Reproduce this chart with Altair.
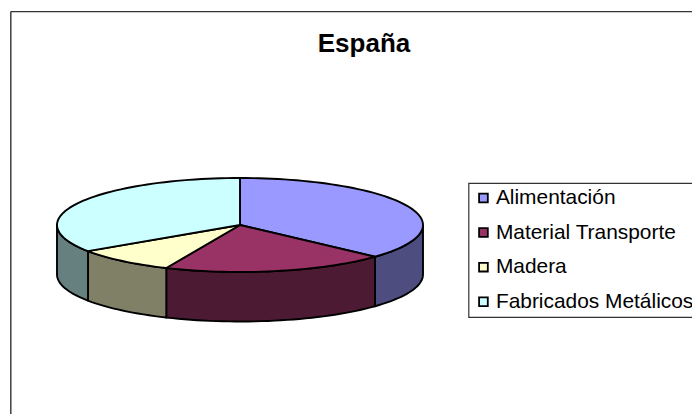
import math
import altair as alt
import pandas as pd

categories = ["Alimentación", "Material Transporte", "Madera", "Fabricados Metálicos"]
shares = [36.8, 19.8, 9.0, 34.4]
top_colors = ["#9999FF", "#993366", "#FFFFCC", "#CCFFFF"]
side_colors = ["#4D4D80", "#4D1A33", "#808066", "#668080"]

# page pixels, used only to set up the scales' domains
RX, RY, DEPTH = 183.0, 47.0, 49.5
CX, CY = 240.0, 225.0


def pt(deg, drop=0.0):
    a = math.radians(deg)
    return CX + RX * math.sin(a), CY - RY * math.cos(a) + drop


tops, sides = [], []
start = 0.0
for name, share, side in zip(categories, shares, side_colors):
    end = start + share * 3.6
    n = max(2, int((end - start) / 2))
    arc = [start + (end - start) * i / n for i in range(n + 1)]
    poly = [(CX, CY)] + [pt(a) for a in arc] + [(CX, CY)]
    for i, (x, y) in enumerate(poly):
        tops.append({"name": name, "i": i, "x": x, "y": y})
    lo, hi = max(start, 90.0), min(end, 270.0)
    if hi > lo:
        m = max(2, int((hi - lo) / 2))
        vis = [lo + (hi - lo) * i / m for i in range(m + 1)]
        poly = [pt(a) for a in vis] + [pt(a, DEPTH) for a in reversed(vis)] + [pt(lo)]
        for i, (x, y) in enumerate(poly):
            sides.append({"name": name, "fillc": side, "i": i, "x": x, "y": y})
    start = end

W, H = 684, 406
xs = alt.Scale(domain=[8, 8 + W], range=[0, W], nice=False, zero=False)
ys = alt.Scale(domain=[8, 8 + H], range=[0, H], nice=False, zero=False)
X = alt.X("x:Q", scale=xs, axis=None)
Y = alt.Y("y:Q", scale=ys, axis=None)

side_layer = alt.Chart(pd.DataFrame(sides)).mark_line(
    filled=True, strokeWidth=1.9, strokeJoin="round", interpolate="linear"
).encode(
    x=X, y=Y, detail="name:N", order="i:Q",
    color=alt.Color("fillc:N", scale=None),
    stroke=alt.value("#000000"),
)

top_layer = alt.Chart(pd.DataFrame(tops)).mark_line(
    filled=True, strokeWidth=1.9, strokeJoin="round", interpolate="linear"
).encode(
    x=X, y=Y, detail="name:N", order="i:Q",
    color=alt.Color(
        "name:N",
        sort=categories,
        scale=alt.Scale(domain=categories, range=top_colors),
        legend=None,
    ),
    stroke=alt.value("#000000"),
)

legend_layer = alt.Chart(pd.DataFrame({"name": categories})).mark_square(opacity=0, size=1).encode(
    x=alt.value(-50), y=alt.value(-50),
    fill=alt.Fill(
        "name:N",
        sort=categories,
        scale=alt.Scale(domain=categories, range=top_colors),
        legend=alt.Legend(
            title=None, orient="none", legendX=460.5, legendY=175,
            fillColor="#FFFFFF", strokeColor="#333333",
            padding=4.5, symbolType="square", symbolSize=76, symbolOffset=0,
            symbolStrokeColor="#000000", symbolStrokeWidth=1.8, symbolOpacity=1,
            labelFont="Liberation Sans", labelFontSize=20.9, labelColor="#000000",
            labelOffset=2, rowPadding=12.6, labelLimit=400,
        ),
    ),
)

frame_top = alt.Chart(pd.DataFrame({"k": [0]})).mark_rule(color="#333333", strokeWidth=1.4).encode(
    x=alt.value(2.8), x2=alt.value(W), y=alt.value(3.6)
)
frame_left = alt.Chart(pd.DataFrame({"k": [0]})).mark_rule(color="#333333", strokeWidth=1.4).encode(
    x=alt.value(2.8), y=alt.value(3.6), y2=alt.value(H)
)
title_layer = alt.Chart(pd.DataFrame({"t": ["España"]})).mark_text(
    font="Liberation Sans", fontSize=26, fontWeight="bold", color="#000000", align="center", baseline="alphabetic"
).encode(x=alt.value(356), y=alt.value(43.7), text="t:N")

chart = alt.layer(
    frame_top, frame_left, title_layer, legend_layer, side_layer, top_layer
).resolve_scale(color="independent").properties(
    width=W, height=H, padding=0, autosize=alt.AutoSizeParams(type="none"), background="#FFFFFF",
).configure_view(stroke=None).configure_legend(strokeWidth=1.2)

chart.save("out.html", embed_options={"renderer": "svg", "actions": False})
